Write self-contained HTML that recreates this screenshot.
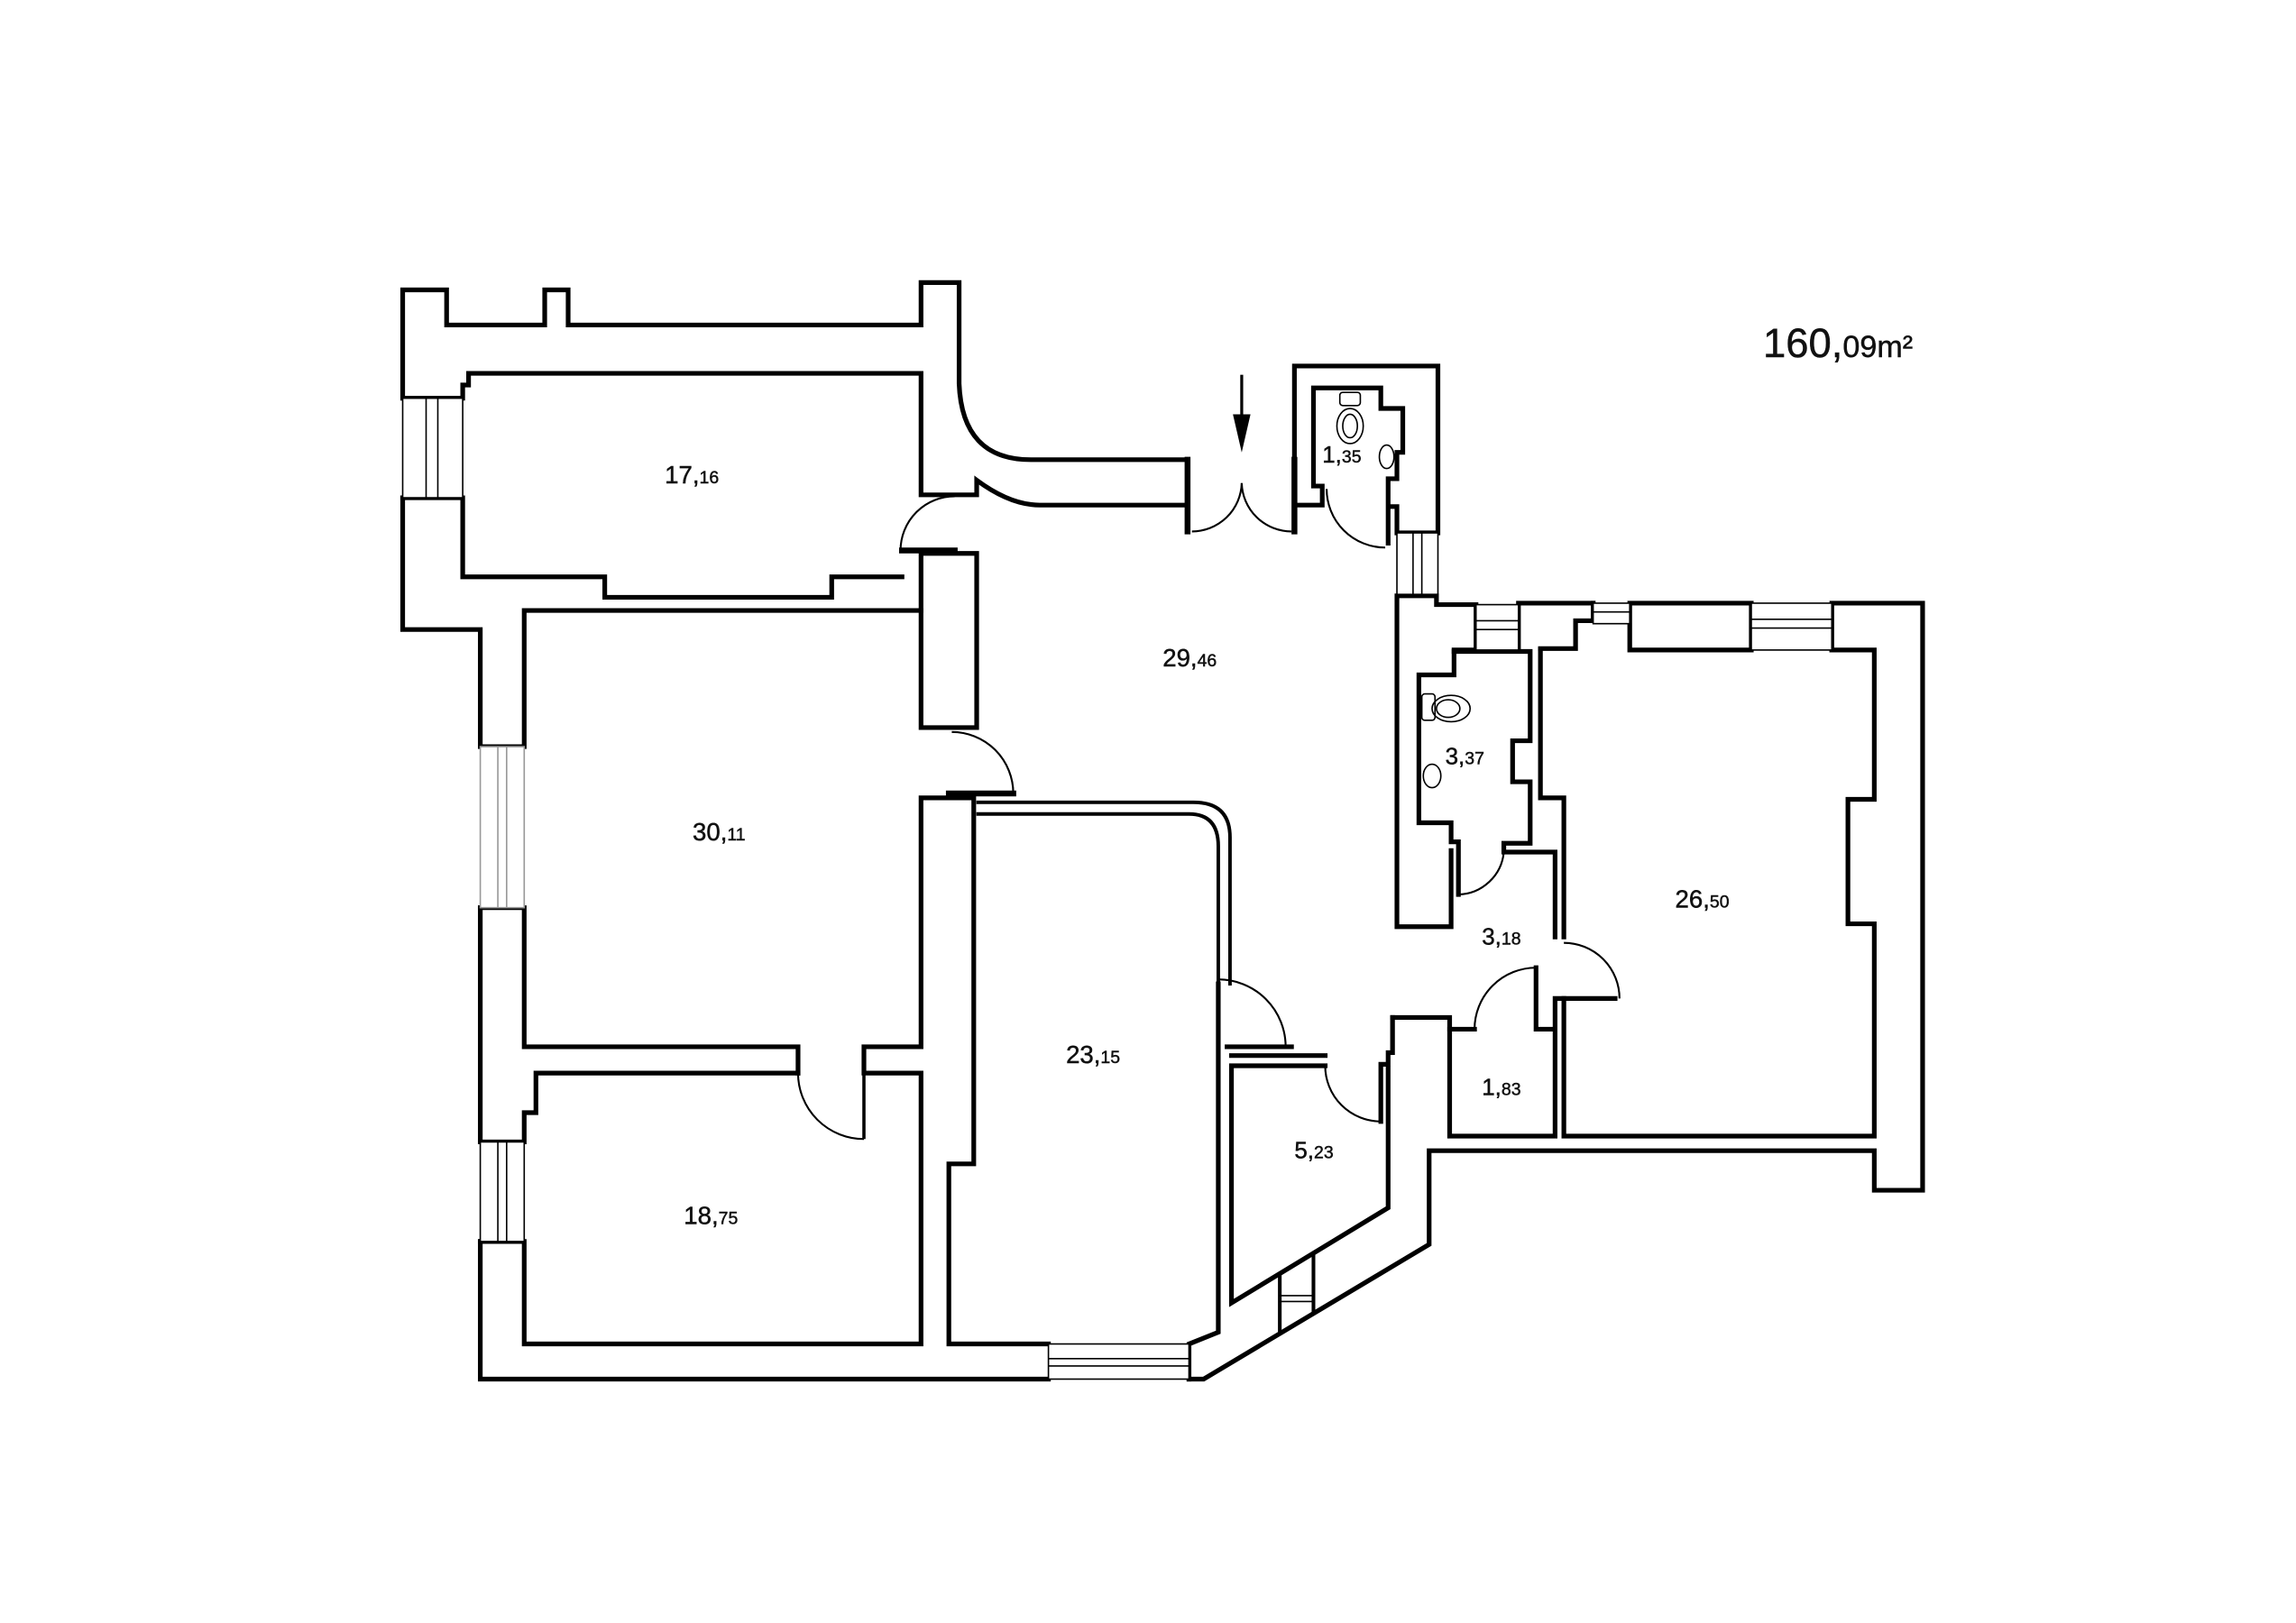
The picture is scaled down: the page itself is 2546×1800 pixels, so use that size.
<!DOCTYPE html>
<html><head><meta charset="utf-8"><style>
html,body{margin:0;padding:0;background:#fff;}
svg{display:block;}
text{font-family:"Liberation Sans",sans-serif;fill:#111;}
</style></head><body>
<svg width="2546" height="1800" viewBox="0 0 1568 1108.6" preserveAspectRatio="none" xmlns="http://www.w3.org/2000/svg">
<rect x="0" y="0" width="1568" height="1108.6" fill="#fff"/>
<g fill="none" stroke="#000" stroke-width="3.2" stroke-linejoin="miter" stroke-linecap="square">
<path d="M275,272 V198 H305 V222 H372 V198 H388 V222 H629 V193 H655 V262 Q657,314 704,314 H811 V345 H710 Q690,345 667,328 V338 H629 V255 H320 V263 H316 V272 H275"/>
<path d="M275,340 H316 V394 H413 V408 H568 V394 H616"/>
<path d="M275,340 V430 H328 V510 H358 V417 H629"/>
<path d="M629,378 H667 V497 H629 Z"/>
<path d="M616,376 H652" stroke-width="4"/>
<path d="M328,620 H358 V715 H545 V733"/>
<path d="M328,620 V780"/>
<path d="M545,733 H366 V760 H358 V780 H328"/>
<path d="M328,848 H358 V918 H629 V733 H590 V715 H629 V545 H665 V795 H648 V918 H716"/>
<path d="M328,848 V942 H716"/>
<path d="M648,542 H692" stroke-width="4"/>
<path d="M812,942 H822 L976,850 V786 H1280 V813 H1313 V412 H1251 V444"/>
<path d="M1196,444 V412 H1113 V444 H1196"/>
<path d="M1088,412 V424 H1076 V443 H1052"/>
<path d="M1088,412 H1037 V444"/>
<path d="M1008,444 V413 H981 V407 H954 V633 H991 V581"/>
<path d="M1008,444 H993 V461 H969 V562 H991 V575 H996 V611" />
<path d="M993,445 H1045 V506 H1033 V534 H1045 V576 H1027 V582 H1062 V640"/>
<path d="M1052,444 V545 H1068 V640"/>
<path d="M1251,444 H1280 V546 H1262 V631 H1280 V776 H1068 V682 H1103"/>
<path d="M951,695 H990 V703 H1007"/>
<path d="M990,703 V776 H1062 V703 H1049 V661"/>
<path d="M1062,703 V682 H1068"/>
<path d="M951,695 V719 H948 V727 H943 V766"/>
<path d="M905,721 H841"/>
<path d="M905,728 H841 V890 L948,825 V730"/>
<path d="M838,715 H882"/>
<path d="M832,672 V910 L812,918 V942"/>
<path d="M668,548 H815 Q840,548 840,572 V672" stroke-width="2.4"/>
<path d="M668,556 H812 Q832,556 832,578 V672" stroke-width="2.4"/>
<path d="M811,314 V363" stroke-width="4"/>
<path d="M884,314 V363" stroke-width="4"/>
<path d="M884,345 V250 H982 V364 H954 V346 H949"/>
<path d="M884,345 H903 V332 H897 V265 H943 V279 H958 V309 H954 V327 H948 V371"/>
</g>
<g fill="none" stroke="#000" stroke-width="1.3">
<path d="M652,339 A37,37 0 0 0 615,376"/>
<path d="M650,500 A42,42 0 0 1 692,542"/>
<path d="M545,733 A45,45 0 0 0 590,778"/>
<path d="M832,669 A46,46 0 0 1 878,715"/>
<path d="M905,728 A38,38 0 0 0 943,766"/>
<path d="M1007,703 A42,42 0 0 1 1049,661"/>
<path d="M1068,644 A38,38 0 0 1 1106,682"/>
<path d="M1027,582 A32,32 0 0 1 996,611"/>
<path d="M814,363 A34,34 0 0 0 848,330"/>
<path d="M882,363 A34,34 0 0 1 848,330"/>
<path d="M906,334 A40,40 0 0 0 946,374"/>
</g>
<g stroke="#000" stroke-width="2.2"><path d="M590,733 V778"/></g>
<g fill="#fff" stroke="#000" stroke-width="1">
<rect x="275" y="272" width="41" height="68"/>
<line x1="291" y1="272" x2="291" y2="340"/><line x1="299" y1="272" x2="299" y2="340"/>
<rect x="328" y="510" width="30" height="110" stroke="#999"/>
<line x1="340" y1="510" x2="340" y2="620" stroke="#999"/><line x1="346" y1="510" x2="346" y2="620" stroke="#999"/>
<rect x="328" y="780" width="30" height="68"/>
<line x1="340" y1="780" x2="340" y2="848"/><line x1="346" y1="780" x2="346" y2="848"/>
<rect x="716" y="918" width="96" height="24"/>
<line x1="716" y1="928" x2="812" y2="928"/><line x1="716" y1="933" x2="812" y2="933"/>
<rect x="954" y="364" width="28" height="42"/>
<line x1="965" y1="364" x2="965" y2="406"/><line x1="971" y1="364" x2="971" y2="406"/>
<rect x="1008" y="413" width="29" height="31"/>
<line x1="1008" y1="424" x2="1037" y2="424"/><line x1="1008" y1="430" x2="1037" y2="430"/>
<rect x="1088" y="412" width="25" height="14"/>
<line x1="1088" y1="418" x2="1113" y2="418"/>
<rect x="1196" y="412" width="55" height="32"/>
<line x1="1196" y1="423" x2="1251" y2="423"/><line x1="1196" y1="429" x2="1251" y2="429"/>
<line x1="874" y1="870" x2="874" y2="912" stroke-width="2.5"/>
<line x1="897" y1="856" x2="897" y2="897" stroke-width="2.5"/>
<line x1="874" y1="885" x2="897" y2="885"/><line x1="874" y1="889" x2="897" y2="889"/>
</g>
<line x1="848" y1="256" x2="848" y2="290" stroke="#000" stroke-width="2"/>
<polygon points="842,283 854,283 848,309" fill="#000"/>
<g fill="none" stroke="#000" stroke-width="1">
<rect x="915" y="268" width="14" height="9" rx="2"/>
<ellipse cx="922" cy="291" rx="9" ry="12"/>
<ellipse cx="922" cy="291" rx="5" ry="8"/>
<ellipse cx="947" cy="312" rx="5" ry="8"/>
<rect x="971" y="474" width="9" height="18" rx="2"/>
<ellipse cx="991" cy="484" rx="13" ry="9"/>
<ellipse cx="989" cy="484" rx="8" ry="6"/>
<ellipse cx="978" cy="530" rx="6" ry="8"/>
</g>
<g font-size="17" stroke="#111" stroke-width="0.3">
<text x="454" y="330">17,<tspan font-size="12">16</tspan></text>
<text x="473" y="574">30,<tspan font-size="12">11</tspan></text>
<text x="467" y="836">18,<tspan font-size="12">75</tspan></text>
<text x="728" y="726">23,<tspan font-size="12">15</tspan></text>
<text x="794" y="455">29,<tspan font-size="12">46</tspan></text>
<text x="903" y="316" font-size="16">1,<tspan font-size="12">35</tspan></text>
<text x="987" y="522" font-size="16">3,<tspan font-size="12">37</tspan></text>
<text x="1012" y="645" font-size="16">3,<tspan font-size="12">18</tspan></text>
<text x="1144" y="620">26,<tspan font-size="12">50</tspan></text>
<text x="1012" y="748" font-size="16">1,<tspan font-size="12">83</tspan></text>
<text x="884" y="791" font-size="16">5,<tspan font-size="12">23</tspan></text>
<text x="1204" y="244" font-size="28">160,<tspan font-size="21">09m²</tspan></text>
</g>
</svg>
</body></html>
